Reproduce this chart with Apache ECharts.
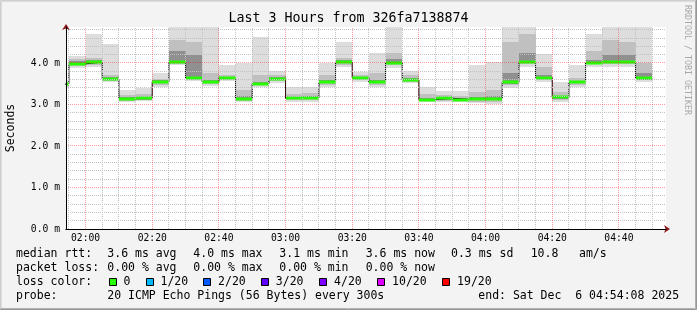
<!DOCTYPE html>
<html><head><meta charset="utf-8">
<script src="https://cdn.jsdelivr.net/npm/echarts@6/dist/echarts.min.js"></script>
<style>html,body{margin:0;padding:0;background:#f3f3f3}#c{width:697px;height:310px}</style>
</head><body><div id="c"></div>
<script>
// ---------- DATA ----------
const windowStart = '01:54:08';
const windowEnd = '04:54:08';
const binStart = ['01:50','01:55','02:00','02:05','02:10','02:15','02:20','02:25','02:30','02:35','02:40','02:45','02:50','02:55',
  '03:00','03:05','03:10','03:15','03:20','03:25','03:30','03:35','03:40','03:45','03:50','03:55',
  '04:00','04:05','04:10','04:15','04:20','04:25','04:30','04:35','04:40','04:45'];
const binEnd = '04:50';
// median rtt per 5-min bin (ms)
const median   = [3.49,3.98,4.02,3.61,3.14,3.16,3.55,4.02,3.63,3.54,3.64,3.13,3.50,3.62,3.15,3.16,3.53,4.02,3.64,3.54,4.01,3.59,3.12,3.15,3.12,3.13,3.14,3.53,4.02,3.65,3.17,3.53,4.01,4.02,4.02,3.64];
// smoke: outer (min/max), middle and inner spread of the pings (ms)
const smokeMin = [3.40,3.87,3.91,3.54,3.07,3.08,3.43,3.95,3.57,3.45,3.57,3.06,3.43,3.51,3.07,3.07,3.43,3.91,3.55,3.43,3.87,3.51,3.06,3.06,3.05,3.04,3.01,3.39,3.91,3.55,3.06,3.43,3.91,3.91,3.91,3.53];
const smokeMax = [3.60,4.18,4.70,4.46,3.35,3.40,3.77,4.87,4.87,4.87,3.95,4.01,4.62,3.81,3.41,3.43,4.01,4.51,3.79,4.25,4.87,3.81,3.43,3.33,3.33,3.94,4.02,4.87,4.87,4.22,3.53,3.94,4.70,4.87,4.87,4.87];
const midLo    = [3.44,3.92,3.96,3.57,3.09,3.10,3.47,3.98,3.60,3.49,3.60,3.08,3.46,3.56,3.10,3.10,3.48,3.96,3.59,3.48,3.95,3.55,3.08,3.09,3.08,3.07,3.06,3.47,3.97,3.60,3.10,3.48,3.97,3.97,3.97,3.58];
const midHi    = [3.55,4.09,4.12,3.72,3.22,3.25,3.62,4.55,4.50,3.75,3.72,3.35,3.70,3.70,3.25,3.28,3.70,4.12,3.70,3.75,4.25,3.70,3.25,3.22,3.20,3.30,3.35,4.50,4.70,3.90,3.30,3.65,4.30,4.55,4.50,4.00];
const innerLo  = [3.46,3.95,3.99,3.58,3.11,3.12,3.51,4.00,3.62,3.52,3.62,3.11,3.48,3.60,3.13,3.13,3.51,4.00,3.62,3.51,3.99,3.57,3.10,3.12,3.10,3.10,3.10,3.50,4.00,3.62,3.13,3.51,4.00,4.00,4.00,3.60];
const innerHi  = [3.52,4.04,4.08,3.66,3.17,3.19,3.58,4.30,4.20,3.60,3.67,3.20,3.55,3.66,3.18,3.20,3.60,4.06,3.67,3.60,4.10,3.63,3.16,3.18,3.16,3.18,3.20,3.75,4.25,3.72,3.20,3.57,4.08,4.20,4.20,3.75];

const xMajorTicks = ['02:00','02:20','02:40','03:00','03:20','03:40','04:00','04:20','04:40'];
const yMajorTicks = [0,1,2,3,4];
const yMinorTicks = [0.2,0.4,0.6,0.8,1.2,1.4,1.6,1.8,2.2,2.4,2.6,2.8,3.2,3.4,3.6,3.8,4.2,4.4,4.6,4.8];
const yMax = 4.867;

const titleText = 'Last 3 Hours from 326fa7138874';
const rttStats = ['3.6 ms avg','4.0 ms max','3.1 ms min','3.6 ms now','0.3 ms sd','10.8','am/s'];
const lossStats = ['0.00 % avg','0.00 % max','0.00 % min','0.00 % now'];
const lossLabels = ['0','1/20','2/20','3/20','4/20','10/20','19/20'];
const lossColors = ['#26ff00','#00b8ff','#0059ff','#5e00ff','#7e00ff','#dd00ff','#ff0000'];
const probeText = '20 ICMP Echo Pings (56 Bytes) every 300s';
const endText = 'end: Sat Dec  6 04:54:08 2025';

// ---------- helpers ----------
function toMin(s){ const p=s.split(':').map(Number); return p[0]*60+p[1]+(p[2]||0)/60; }
function fmt(v){ const h=Math.floor(v/60), m=Math.round(v-h*60); return String(h).padStart(2,'0')+':'+String(m).padStart(2,'0'); }
const xMin = toMin(windowStart), xMax = toMin(windowEnd);
const xMajor = xMajorTicks.map(toMin);
const xMinor = binStart.concat([binEnd]).map(toMin).filter(v => v > xMin && v < xMax && xMajor.indexOf(v) < 0);

const items = binStart.map((s,i) => [toMin(s), toMin(i < binStart.length-1 ? binStart[i+1] : binEnd),
  smokeMin[i], midLo[i], innerLo[i], median[i], innerHi[i], midHi[i], smokeMax[i]]);
const stepData = binStart.map((s,i)=>[toMin(s), median[i]]).concat([[toMin(binEnd), median[median.length-1]]]);

// grid line list: [kind, value]  kind 0 = minor vertical, 1 = minor horizontal, 2 = major vertical, 3 = major horizontal
const gridItems = xMinor.map(v=>[0,v]).concat(yMinorTicks.map(v=>[1,v]), xMajor.map(v=>[2,v]), yMajorTicks.filter(v=>v>0).map(v=>[3,v]));

const smokeColors = ['#dddddd','#c0c0c0','#909090'];
function clipR(r, cs){ return echarts.graphic.clipRectByRect(r, {x:cs.x,y:cs.y,width:cs.width,height:cs.height}); }
function renderSmoke(params, api){
  const x0 = api.value(0), x1 = api.value(1), cs = params.coordSys;
  const layers = [[2,8],[3,7],[4,6]];
  const children = [];
  layers.forEach((l,k)=>{
    const a = api.coord([x0, api.value(l[1])]);
    const b = api.coord([x1, api.value(l[0])]);
    const r = clipR({x:Math.round(a[0]), y:Math.round(a[1]), width:Math.round(b[0])-Math.round(a[0]), height:Math.round(b[1])-Math.round(a[1])}, cs);
    if (r) children.push({type:'rect', shape:r, style:{fill:smokeColors[k]}});
  });
  return {type:'group', children};
}
function renderMedian(params, api){
  const cs = params.coordSys;
  const a = api.coord([api.value(0), api.value(5)]);
  const b = api.coord([api.value(1), api.value(5)]);
  const r = clipR({x:Math.round(a[0]), y:Math.round(a[1])-1.5, width:Math.round(b[0])-Math.round(a[0]), height:3}, cs);
  return r ? {type:'rect', shape:r, style:{fill:lossColors[0]}} : null;
}
function renderGrid(params, api){
  const kind = api.value(0), v = api.value(1);
  const major = kind >= 2;
  const stroke = major ? 'rgba(255,0,0,0.38)' : '#c2c2c2';
  let shape;
  if (kind === 0 || kind === 2) {
    const a = api.coord([v, 0]), b = api.coord([v, yMax]);
    const x = Math.floor(a[0]) + 0.5;
    shape = {x1:x, y1:a[1], x2:x, y2:b[1]};
  } else {
    const a = api.coord([xMin, v]), b = api.coord([xMax, v]);
    const y = Math.floor(a[1]) + 0.5;
    shape = {x1:a[0], y1:y, x2:b[0], y2:y};
  }
  return {type:'line', shape:shape, style:{stroke:stroke, lineWidth:1, lineDash:[1,1]}};
}

const MONO = '"DejaVu Sans Mono", monospace';
const LF = 11.5;
function txt(s, x, y, opts){
  return Object.assign({type:'text', x:x, y:y, silent:true,
    style:{text:s, fill:'#000', fontFamily:MONO, fontSize:LF, textAlign:'left', textVerticalAlign:'middle'}}, opts||{});
}
const graphics = [];
// frame
graphics.push({type:'polyline', silent:true, shape:{points:[[0.5,309],[0.5,0.5],[696,0.5]]}, style:{stroke:'#cfcfcf', lineWidth:1, fill:null}});
graphics.push({type:'polyline', silent:true, shape:{points:[[1.5,308],[1.5,1.5],[695,1.5]]}, style:{stroke:'#dcdcdc', lineWidth:1, fill:null}});
graphics.push({type:'polyline', silent:true, shape:{points:[[1,308.5],[695.5,308.5],[695.5,1]]}, style:{stroke:'#b0b0b0', lineWidth:1, fill:null}});
graphics.push({type:'polyline', silent:true, shape:{points:[[0,309.5],[696.5,309.5],[696.5,0]]}, style:{stroke:'#999999', lineWidth:1, fill:null}});
// title
graphics.push(txt(titleText, 348.5, 19, {style:{text:titleText, fill:'#000', fontFamily:MONO, fontSize:13.3, textAlign:'center', textVerticalAlign:'middle'}}));
// y name
graphics.push({type:'text', x:10.8, y:128, rotation:Math.PI/2, silent:true,
  style:{text:'Seconds', fill:'#000', fontFamily:MONO, fontSize:LF, textAlign:'center', textVerticalAlign:'middle'}});
// watermark
graphics.push({type:'text', x:687.5, y:60, rotation:-Math.PI/2, silent:true,
  style:{text:'RRDTOOL / TOBI OETIKER', fill:'#a8a8a8', fontFamily:MONO, fontSize:8.3, textAlign:'center', textVerticalAlign:'middle'}});
// legend rows
const rowY = [254, 268.3, 282.3, 296];
graphics.push(txt('median rtt:', 16, rowY[0]));
const rttX = [107.3,193.3,279.3,365.7,451,530.7,579];
rttStats.forEach((s,i)=>graphics.push(txt(s, rttX[i], rowY[0])));
graphics.push(txt('packet loss:', 16, rowY[1]));
lossStats.forEach((s,i)=>graphics.push(txt(s, rttX[i], rowY[1])));
graphics.push(txt('loss color:', 16, rowY[2]));
const boxX = [108.7,145.7,203.3,261,319.3,377.3,442.3];
lossLabels.forEach((s,i)=>{
  graphics.push({type:'rect', silent:true, shape:{x:Math.round(boxX[i])+0.5, y:278.5, width:7, height:7}, style:{fill:lossColors[i], stroke:'#000', lineWidth:1}});
  graphics.push(txt(s, boxX[i]+14.8, rowY[2]));
});
graphics.push(txt('probe:', 16, rowY[3]));
graphics.push(txt(probeText, 107.3, rowY[3]));
graphics.push(txt(endText, 478.3, rowY[3]));

const AF = 9.7;
const option = {
  animation:false,
  backgroundColor:'#f3f3f3',
  grid:{left:66, top:27, width:600, height:202, show:true, backgroundColor:'#ffffff', borderWidth:0, outerBoundsMode:'none'},
  xAxis:[
    {type:'value', min:xMin, max:xMax, position:'bottom', z:12,
     axisLine:{show:true, onZero:false, lineStyle:{color:'#000', width:1}},
     axisTick:{show:false, customValues:xMajor},
     axisLabel:{show:true, customValues:xMajor, formatter:fmt, fontFamily:MONO, fontSize:AF, color:'#000', margin:4},
     splitLine:{show:false}},
    {type:'value', min:xMin, max:xMax, position:'bottom', z:11,
     axisLine:{show:true, onZero:false, symbol:['none','arrow'], symbolSize:[6,6], symbolOffset:[0,4], lineStyle:{color:'#8b1a1a', width:1}},
     axisTick:{show:false}, axisLabel:{show:false}, splitLine:{show:false}}
  ],
  yAxis:[
    {type:'value', min:0, max:yMax, position:'left', z:12,
     axisLine:{show:true, onZero:false, lineStyle:{color:'#000', width:1}},
     axisTick:{show:false, customValues:yMajorTicks},
     axisLabel:{show:true, customValues:yMajorTicks, formatter:v=>v.toFixed(1)+' m', fontFamily:MONO, fontSize:AF, color:'#000', margin:6},
     splitLine:{show:false}},
    {type:'value', min:0, max:yMax, position:'left', z:11,
     axisLine:{show:true, onZero:false, symbol:['none','arrow'], symbolSize:[6,6], symbolOffset:[0,3], lineStyle:{color:'#8b1a1a', width:1}},
     axisTick:{show:false}, axisLabel:{show:false}, splitLine:{show:false}}
  ],
  series:[
    {type:'custom', name:'smoke', xAxisIndex:0, yAxisIndex:0, renderItem:renderSmoke, data:items, encode:{x:[0,1], y:[2,8]}, z:2, silent:true},
    {type:'line', name:'median', xAxisIndex:0, yAxisIndex:0, data:stepData, step:'end', showSymbol:false, symbol:'none', clip:true,
     lineStyle:{color:'#000', width:1}, z:3, silent:true},
    {type:'custom', name:'medianLoss', xAxisIndex:0, yAxisIndex:0, renderItem:renderMedian, data:items, encode:{x:[0,1], y:5}, z:4, silent:true},
    {type:'custom', name:'gridLines', xAxisIndex:0, yAxisIndex:0, renderItem:renderGrid, data:gridItems, z:8, silent:true}
  ],
  graphic:{elements:graphics}
};
const chart = echarts.init(document.getElementById('c'), null, {renderer:'canvas'});
chart.setOption(option);
</script>
</body></html>
